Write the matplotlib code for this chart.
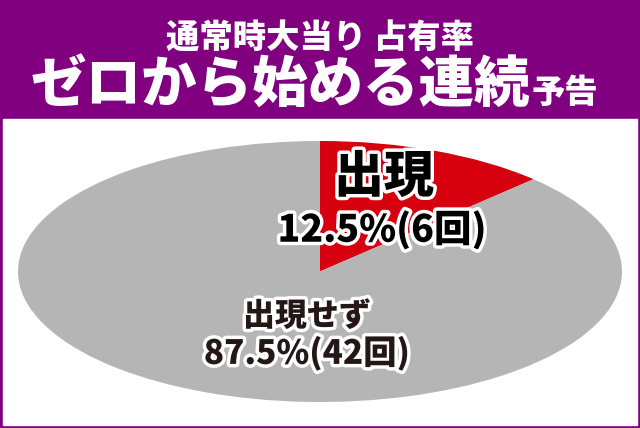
import matplotlib
matplotlib.use("Agg")
import matplotlib.pyplot as plt
import matplotlib.patheffects as pe
from matplotlib.patches import Rectangle

plt.rcParams['font.family'] = ['Noto Sans CJK JP', 'DejaVu Sans']

title_line1 = "通常時大当り 占有率"
title_line2_main = "ゼロから始める連続"
title_line2_sub = "予告"
labels = ["出現", "出現せず"]
values = [12.5, 87.5]
counts = [6, 42]
colors = ["#d7000f", "#b5b5b6"]

PURPLE = "#800080"

fig = plt.figure(figsize=(6.4, 4.28), dpi=100)
bg = fig.add_axes([0, 0, 1, 1])
bg.set_xlim(0, 640)
bg.set_ylim(428, 0)
bg.axis("off")
bg.add_patch(Rectangle((0, 0), 640, 428, color=PURPLE, zorder=0))
bg.add_patch(Rectangle((3, 119), 634, 306, color="white", zorder=1))

bg.text(320, 37, title_line1, color="white", fontsize=24, fontweight="heavy",
        ha="center", va="center", zorder=3)
bg.text(530, 103, title_line2_main, color="white", fontsize=40, fontweight="heavy",
        ha="right", va="baseline", zorder=3)
bg.text(532, 103, title_line2_sub, color="white", fontsize=24, fontweight="heavy",
        ha="left", va="baseline", zorder=3)

# pie drawn as ellipse in its own axes
L, R, T, B = 18, 622, 141, 402
pax = fig.add_axes([L / 640, (428 - B) / 428, (R - L) / 640, (B - T) / 428])
pax.pie(values, colors=colors, startangle=90, counterclock=False,
        radius=1.0, wedgeprops=dict(linewidth=0))
pax.set_aspect("auto")
pax.set_xlim(-1, 1)
pax.set_ylim(-1, 1)
pax.axis("off")

# overlay for labels
top = fig.add_axes([0, 0, 1, 1])
top.set_xlim(0, 640)
top.set_ylim(428, 0)
top.axis("off")
top.patch.set_visible(False)

stroke = [pe.withStroke(linewidth=5, foreground="white")]

top.text(384, 177, labels[0], color="black", fontsize=36, fontweight="heavy",
         ha="center", va="center", zorder=5, path_effects=stroke)
top.text(382, 230, f"{values[0]}%({counts[0]}回)", color="black", fontsize=27,
         fontweight="heavy", ha="center", va="center", zorder=5, path_effects=stroke)
top.text(307, 316, labels[1], color="#231815", fontsize=23, fontweight="heavy",
         ha="center", va="center", zorder=5, path_effects=stroke)
top.text(307, 353, f"{values[1]}%({counts[1]}回)", color="#231815", fontsize=24,
         fontweight="heavy", ha="center", va="center", zorder=5, path_effects=stroke)

fig.savefig("out.png", dpi=100)
